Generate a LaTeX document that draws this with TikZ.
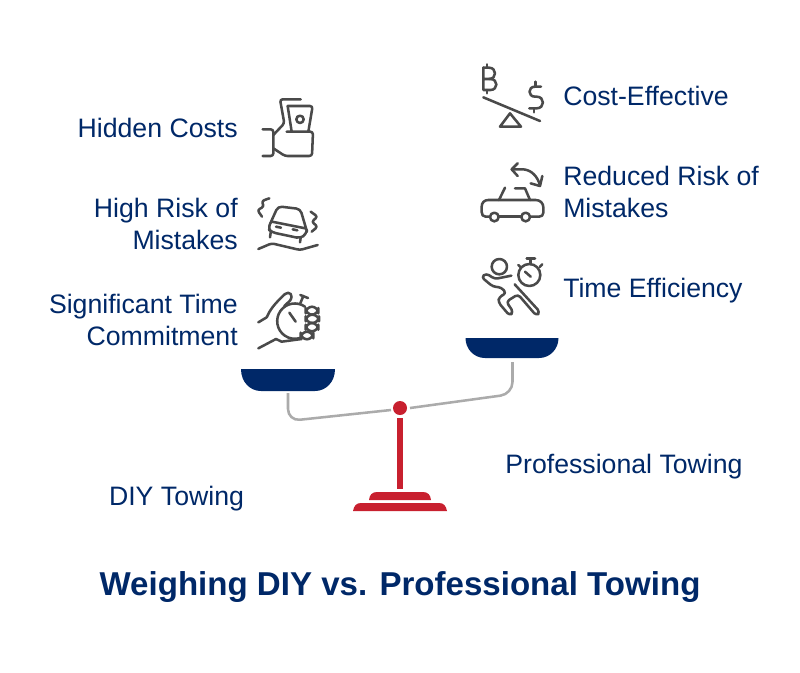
\documentclass[tikz,border=0pt]{standalone}
\usepackage{fontspec}
\setmainfont{Liberation Sans}
\usetikzlibrary{calc,positioning}
\definecolor{navy}{HTML}{002868}
\definecolor{scalered}{HTML}{C8202F}
\definecolor{icongray}{HTML}{4A4A4A}
\definecolor{beamgray}{HTML}{ABABAB}
\tikzset{
    iconline/.style = {draw=icongray, line width=1.9pt, line cap=round, line join=round},
    iconat/.style 2 args = {shift={(#1,#2)}, scale=1/3},
    leftlabel/.style = {anchor=east, align=right},
    rightlabel/.style = {anchor=west, align=left},
}
\begin{document}
\begin{tikzpicture}[x=0.75pt, y=-0.75pt,
        every node/.style = {text=navy, inner sep=0pt, font=\fontsize{20}{24}\selectfont},
    ]
    \useasboundingbox (0,0) rectangle (800,672);

    % labels
    \node[leftlabel] (hidden) at (238,128) {Hidden Costs};
    \node[leftlabel] (risk) at (238,224) {High Risk of\\Mistakes};
    \node[leftlabel] (commit) at (238,320) {Significant Time\\Commitment};
    \node[rightlabel] (cost) at (563,96) {Cost-Effective};
    \node[rightlabel] (reduced) at (563,192) {Reduced Risk of\\Mistakes};
    \node[rightlabel] (efficiency) at (563,291) {Time Efficiency};
    \node (diy) at (176.5,499) {DIY Towing};
    \node (pro) at (624,467) {Professional Towing};
    \node[font=\fontsize{24.8}{28}\selectfont\bfseries] (title) at (400,587.5) {Weighing DIY vs. Professional Towing};

    % scale
    \draw[beamgray, line width=1.9pt, rounded corners=9pt] (288,393) -- (288,421) -- (391,410);
    \draw[beamgray, line width=1.9pt, rounded corners=9pt] (410,408) -- (512.5,394) -- (512.5,362);
    \fill[navy] (241,369) -- (335,369) .. controls (335,382) and (326,391) .. (315,391) -- (261,391) .. controls (250,391) and (241,382) .. (241,369) -- cycle;
    \fill[navy] (465.5,338) -- (558.5,338) .. controls (558.5,349) and (550,358) .. (539,358) -- (485,358) .. controls (474,358) and (465.5,349) .. (465.5,338) -- cycle;
    \fill[scalered] (400,408) circle (7);
    \fill[scalered] (397.3,418) rectangle (402.7,489);
    \fill[scalered] (369,500) .. controls (369.5,495) and (372,492) .. (377,492) -- (423,492) .. controls (428,492) and (430.5,495) .. (431,500) -- cycle;
    \fill[scalered] (353,511) .. controls (354,506) and (356,503) .. (361,503) -- (439,503) .. controls (444,503) and (446,506) .. (447,511) -- cycle;

    % hidden costs
    \begin{scope}[iconat={240}{80}, rounded corners=2pt]
        \draw[iconline] (182,58) -- (120,58) -- (133,130) -- (100,165);
        \draw[iconline] (143,78) -- (218,78) -- (205,155);
        \draw[iconline] (143,78) -- (155,155);
        \draw[iconline, sharp corners] (180,118) circle (11);
        \draw[iconline] (140,155) -- (219,155) -- (216,228) -- (135,228) -- (100,205);
        \draw[iconline] (68,148) -- (100,148) -- (100,228) -- (68,228);
    \end{scope}

    % high risk
    \begin{scope}[iconat={240}{185}, rounded corners=2pt]
        \draw[iconline] (88,40) -- (65,48) -- (72,65) -- (52,75) -- (66,95);
        \draw[iconline] (212,80) -- (233,95) -- (215,110) -- (233,125) -- (215,140);
        \draw[iconline, rounded corners=3pt] (91,115) -- (114,64) -- (181,72) -- (201,140);
        \draw[iconline, rounded corners=3pt] (91,115) -- (84,132) -- (96,142) -- (181,160) -- (198,148) -- (201,135);
        \draw[iconline] (96,110) -- (196,130);
        \draw[iconline] (92,143) -- (90,157);
        \draw[iconline] (182,158) -- (180,172);
        \draw[iconline] (108,125) -- (123,128);
        \draw[iconline] (158,133) -- (172,136);
        \draw[iconline] (55,192) -- (95,175) -- (180,195) -- (233,180);
    \end{scope}

    % time commitment
    \begin{scope}[iconat={240}{280}]
        \draw[iconline] (55,127) -- (80,112) .. controls (90,90) and (100,75) .. (135,42) .. controls (148,32) and (162,45) .. (150,62) -- (133,78);
        \draw[iconline] (195,80) arc (-55:-290:53);
        \draw[iconline] (180,72) -- (190,48);
        \draw[iconline] (181,45) -- (204,54);
        \draw[iconline] (148,98) -- (167,125);
        \draw[iconline] (55,205) -- (108,177) -- (125,185) -- (185,177);
        \draw[iconline, rounded corners=5pt] (197,80) rectangle (235,104);
        \draw[iconline, rounded corners=5pt] (197,104) rectangle (237,129);
        \draw[iconline, rounded corners=5pt] (197,129) rectangle (235,154);
        \draw[iconline, rounded corners=5pt] (182,155) rectangle (220,178);
    \end{scope}

    % cost effective
    \begin{scope}[iconat={465}{55}]
        \draw[iconline] (55,38) -- (55,105) -- (76,105) .. controls (100,105) and (100,72) .. (76,72) -- (55,72);
        \draw[iconline] (55,38) -- (72,38) .. controls (96,38) and (96,72) .. (72,72);
        \draw[iconline] (66,28) -- (66,38);
        \draw[iconline] (66,105) -- (66,115);
        \draw[iconline] (228,95) -- (210,95) .. controls (188,95) and (188,125) .. (210,125) -- (215,125) .. controls (240,125) and (240,160) .. (215,160) -- (193,160);
        \draw[iconline] (212,80) -- (212,95);
        \draw[iconline] (207,160) -- (207,172);
        \draw[iconline] (55,127) -- (225,198);
        \draw[iconline] (135,175) -- (168,215) -- (105,215) -- cycle;
    \end{scope}

    % reduced risk
    \begin{scope}[iconat={465}{150}]
        \draw[iconline] (75,200) -- (62,200) .. controls (54,200) and (50,194) .. (50,186) -- (50,170) .. controls (50,158) and (58,150) .. (70,150) -- (212,150) .. controls (226,150) and (235,160) .. (235,172) -- (235,188) .. controls (235,196) and (230,200) .. (222,200) -- (195,200);
        \draw[iconline] (101,200) -- (169,200);
        \draw[iconline] (88,201) circle (13);
        \draw[iconline] (182,201) circle (13);
        \draw[iconline] (102,150) -- (120,113);
        \draw[iconline] (150,115) -- (180,115) -- (195,150);
        \draw[iconline] (140,58) -- (175,58) .. controls (200,60) and (218,80) .. (225,106);
        \draw[iconline] (158,40) -- (140,58) -- (158,78);
        \draw[iconline] (197,100) -- (225,108) -- (232,78);
    \end{scope}

    % time efficiency
    \begin{scope}[iconat={465}{245}]
        \draw[iconline] (103,65) circle (23);
        \draw[iconline] (193,90) circle (33);
        \draw[iconline] (197,40) -- (197,57);
        \draw[iconline] (185,40) -- (210,40);
        \draw[iconline] (160,60) -- (168,68);
        \draw[iconline] (232,58) -- (224,66);
        \draw[iconline] (180,80) -- (197,95);
        \draw[iconline, rounded corners=2.5pt] (139,92) -- (89,102) -- (64,85) -- (49,96) -- (84,125) -- (109,127) -- (124,145) -- (102,156) -- (100,172) -- (134,212) -- (145,201) -- (124,170) -- (159,148) -- (214,212) -- (225,201) -- (149,118);
    \end{scope}
\end{tikzpicture}
\end{document}
